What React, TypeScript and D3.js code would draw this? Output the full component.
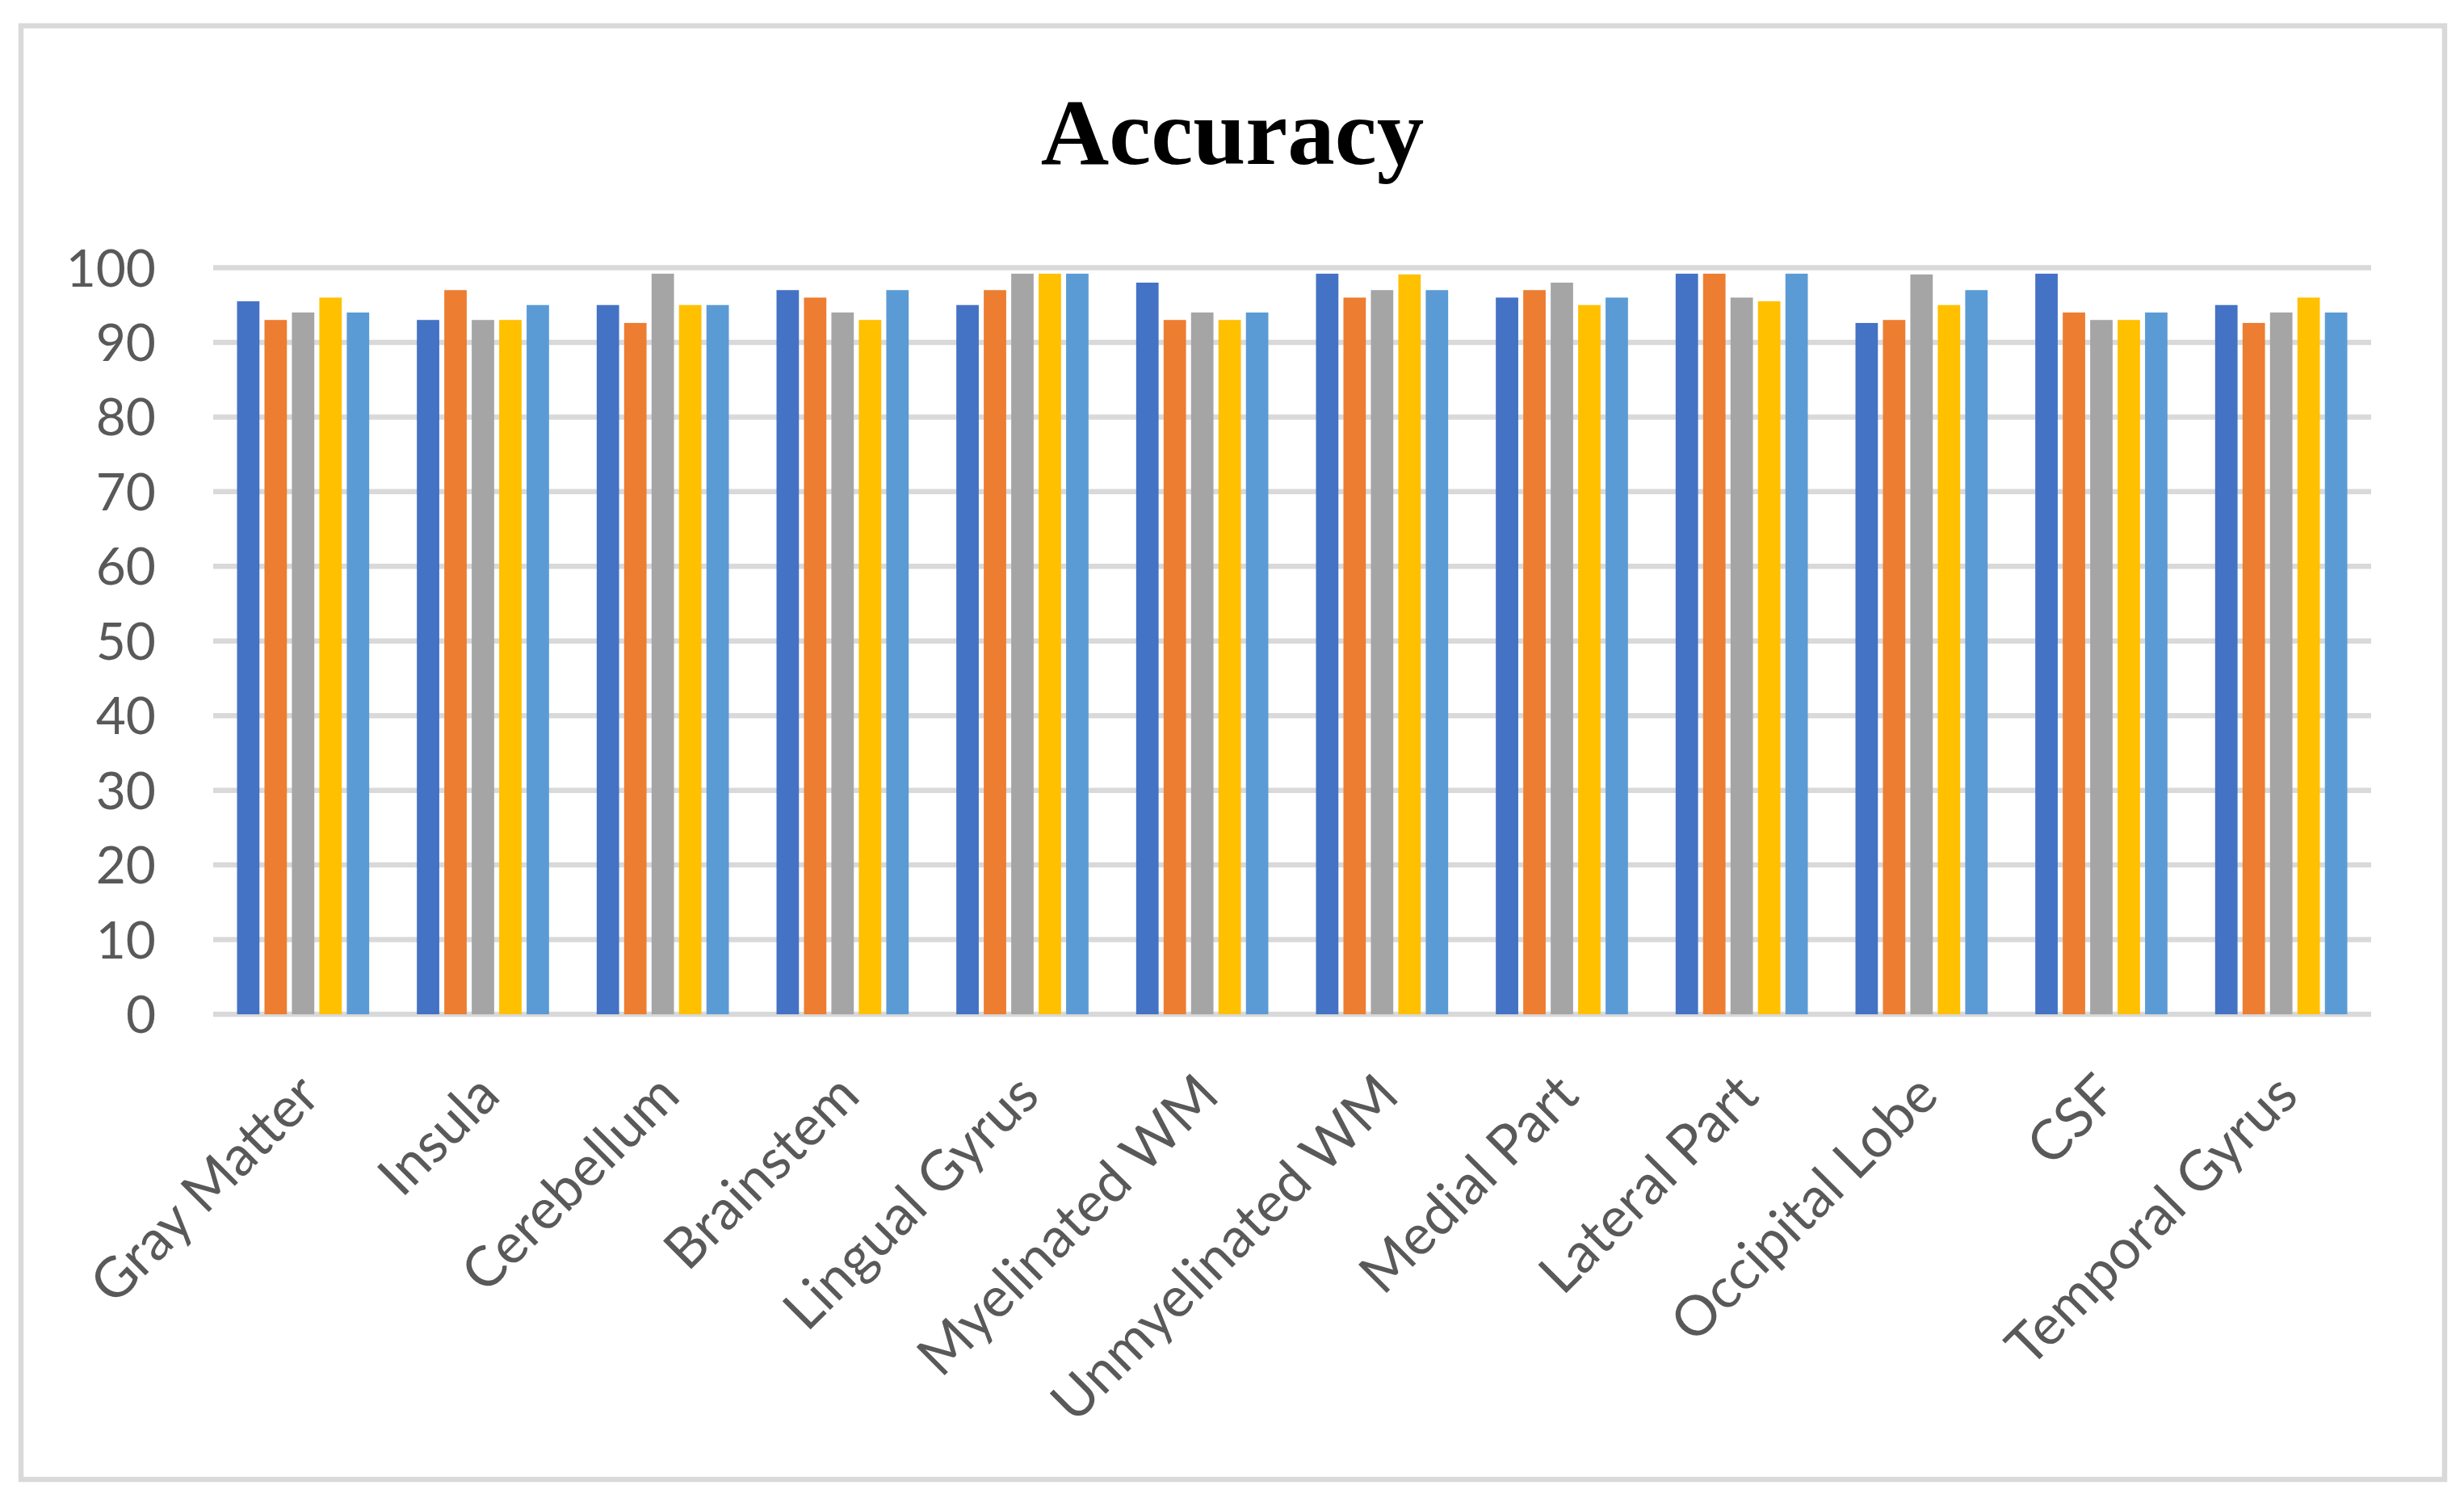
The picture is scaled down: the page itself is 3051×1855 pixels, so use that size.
import * as d3 from "d3";

const W = 3051;
const H = 1855;

// categories along the x axis
const categories = [
  "Gray Matter",
  "Insula",
  "Cerebellum",
  "Brainstem",
  "Lingual Gyrus",
  "Myelinated WM",
  "Unmyelinated WM",
  "Medial Part",
  "Lateral Part",
  "Occipital Lobe",
  "CSF",
  "Temporal Gyrus",
];

// five series, one value per category
const series1 = [95.5, 93, 95, 97, 95, 98, 99.2, 96, 99.2, 92.6, 99.2, 95];
const series2 = [93, 97, 92.6, 96, 97, 93, 96, 97, 99.2, 93, 94, 92.6];
const series3 = [94, 93, 99.2, 94, 99.2, 94, 97, 98, 96, 99.1, 93, 94];
const series4 = [96, 93, 95, 93, 99.2, 93, 99.1, 95, 95.5, 95, 93, 96];
const series5 = [94, 95, 95, 97, 99.2, 94, 97, 96, 99.2, 97, 94, 94];

const seriesNames = ["Series 1", "Series 2", "Series 3", "Series 4", "Series 5"];
const seriesValues = [series1, series2, series3, series4, series5];
const colors = ["#4472C4", "#ED7D31", "#A5A5A5", "#FFC000", "#5B9BD5"];

const yTicks = [0, 10, 20, 30, 40, 50, 60, 70, 80, 90, 100];

const plot = { left: 264, right: 2936, top: 331.5, bottom: 1256 };

const x0 = d3
  .scaleBand<string>()
  .domain(categories)
  .range([plot.left, plot.right])
  .paddingInner(0.265)
  .paddingOuter(0.1325);

const x1 = d3
  .scaleBand<string>()
  .domain(seriesNames)
  .range([0, x0.bandwidth()])
  .paddingInner(0.183);

const y = d3.scaleLinear().domain([0, 100]).range([plot.bottom, plot.top]);

const labelFont = "Lato, 'Open Sans', sans-serif";

export default function App() {
  return (
    <svg
      width={W}
      height={H}
      style={{ position: "absolute", left: 0, top: 0, background: "#fff" }}
    >
      <rect x={0} y={0} width={W} height={H} fill="#fff" />
      {/* chart border */}
      <rect
        x={26}
        y={32}
        width={3001}
        height={1800}
        fill="none"
        stroke="#d9d9d9"
        strokeWidth={6.5}
      />

      <text
        x={1526}
        y={203}
        textAnchor="middle"
        fontFamily="'Liberation Serif', 'Times New Roman', serif"
        fontWeight="bold"
        fontSize={117}
        fill="#000"
      >
        Accuracy
      </text>

      {/* gridlines */}
      {yTicks.map((t) => (
        <line
          key={t}
          x1={plot.left}
          x2={plot.right}
          y1={y(t)}
          y2={y(t)}
          stroke="#d9d9d9"
          strokeWidth={6.5}
        />
      ))}

      {/* y labels */}
      {yTicks.map((t) => (
        <text
          key={t}
          x={193}
          y={y(t)}
          dy="0.36em"
          textAnchor="end"
          fontFamily={labelFont}
          fontSize={64}
          fill="#595959"
        >
          {t}
        </text>
      ))}

      {/* bars */}
      {categories.map((c, ci) => (
        <g key={c} transform={`translate(${x0(c)},0)`}>
          {seriesNames.map((s, si) => {
            const v = seriesValues[si][ci];
            return (
              <rect
                key={s}
                x={x1(s)}
                y={y(v)}
                width={x1.bandwidth()}
                height={y(0) - y(v)}
                fill={colors[si]}
              />
            );
          })}
        </g>
      ))}

      {/* x labels */}
      {categories.map((c) => {
        const cx = (x0(c) ?? 0) + x0.bandwidth() / 2;
        return (
          <text
            key={c}
            transform={`translate(${cx + 24},${1360}) rotate(-45)`}
            textAnchor="end"
            fontFamily={labelFont}
            fontSize={69}
            fill="#595959"
          >
            {c}
          </text>
        );
      })}
    </svg>
  );
}
